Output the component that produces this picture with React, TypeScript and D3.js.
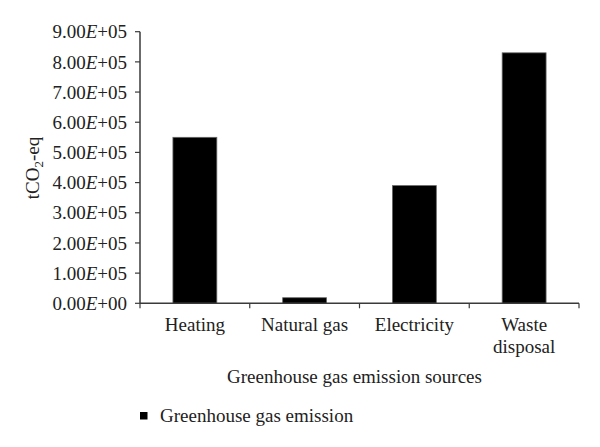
import React from "react";
import * as d3 from "d3";

const categories: string[][] = [["Heating"], ["Natural gas"], ["Electricity"], ["Waste", "disposal"]];
const values: number[] = [5.5e5, 1.85e4, 3.9e5, 8.3e5];
const yTicks: number[] = [0, 1e5, 2e5, 3e5, 4e5, 5e5, 6e5, 7e5, 8e5, 9e5];
const seriesName = "Greenhouse gas emission";
const xTitle = "Greenhouse gas emission sources";

const W = 600, H = 447;
const left = 140, right = 579, top = 31.7, bottom = 303.3;
const font = "'Liberation Serif', 'Times New Roman', serif";
const fs = 19;

function fmt(v: number) {
  const s = v.toExponential(2);
  const [m, e] = s.split("e");
  const sign = e[0] === "-" ? "-" : "+";
  const ex = Math.abs(parseInt(e, 10)).toString().padStart(2, "0");
  return { m, rest: sign + ex };
}

export default function App() {
  const keys = categories.map((c) => c.join(" "));
  const x = d3.scaleBand<string>().domain(keys).range([left, right]).paddingInner(0.6).paddingOuter(0.3);
  const y = d3.scaleLinear().domain([0, 9e5]).range([bottom, top]);
  const step = x.step();
  const axisColor = "#3a3a3a";
  const boundaries = d3.range(keys.length + 1).map((i) => left + i * step);

  return (
    <svg width={W} height={H} style={{ position: "absolute", left: 0, top: 0, background: "#fff" }}
      fontFamily={font} fontSize={fs}>
      {keys.map((k, i) => (
        <rect key={k} x={x(k)} y={y(values[i])} width={x.bandwidth()} height={y(0) - y(values[i])}
          fill="#000" stroke="#666" strokeWidth={0.8} />
      ))}
      <line x1={left} x2={left} y1={top} y2={bottom} stroke={axisColor} strokeWidth={1.5} />
      {yTicks.map((t) => {
        const f = fmt(t);
        return (
          <g key={t}>
            <line x1={left - 5} x2={left} y1={y(t)} y2={y(t)} stroke={axisColor} strokeWidth={1.2} />
            <text x={127} y={y(t)} dy="0.35em" textAnchor="end" fill="#222">
              {f.m}<tspan fontStyle="italic">E</tspan>{f.rest}
            </text>
          </g>
        );
      })}
      <line x1={left} x2={right} y1={bottom} y2={bottom} stroke={axisColor} strokeWidth={1.5} />
      {boundaries.map((b, i) => (
        <line key={i} x1={b} x2={b} y1={bottom} y2={bottom + 5} stroke={axisColor} strokeWidth={1.2} />
      ))}
      {categories.map((c, i) => (
        <text key={keys[i]} x={(x(keys[i]) as number) + x.bandwidth() / 2} y={331} textAnchor="middle" fill="#222">
          {c.map((line, j) => (
            <tspan key={j} x={(x(keys[i]) as number) + x.bandwidth() / 2} dy={j === 0 ? 0 : 22}>{line}</tspan>
          ))}
        </text>
      ))}
      <text x={354.5} y={383} textAnchor="middle" fill="#222">{xTitle}</text>
      <text transform={`translate(39,168) rotate(-90)`} textAnchor="middle" fill="#222">
        tCO<tspan fontSize={13} dy={4}>2</tspan><tspan dy={-4}>-eq</tspan>
      </text>
      <rect x={140} y={412} width={7.5} height={7.5} fill="#000" />
      <text x={160} y={421.5} fill="#222">{seriesName}</text>
    </svg>
  );
}
